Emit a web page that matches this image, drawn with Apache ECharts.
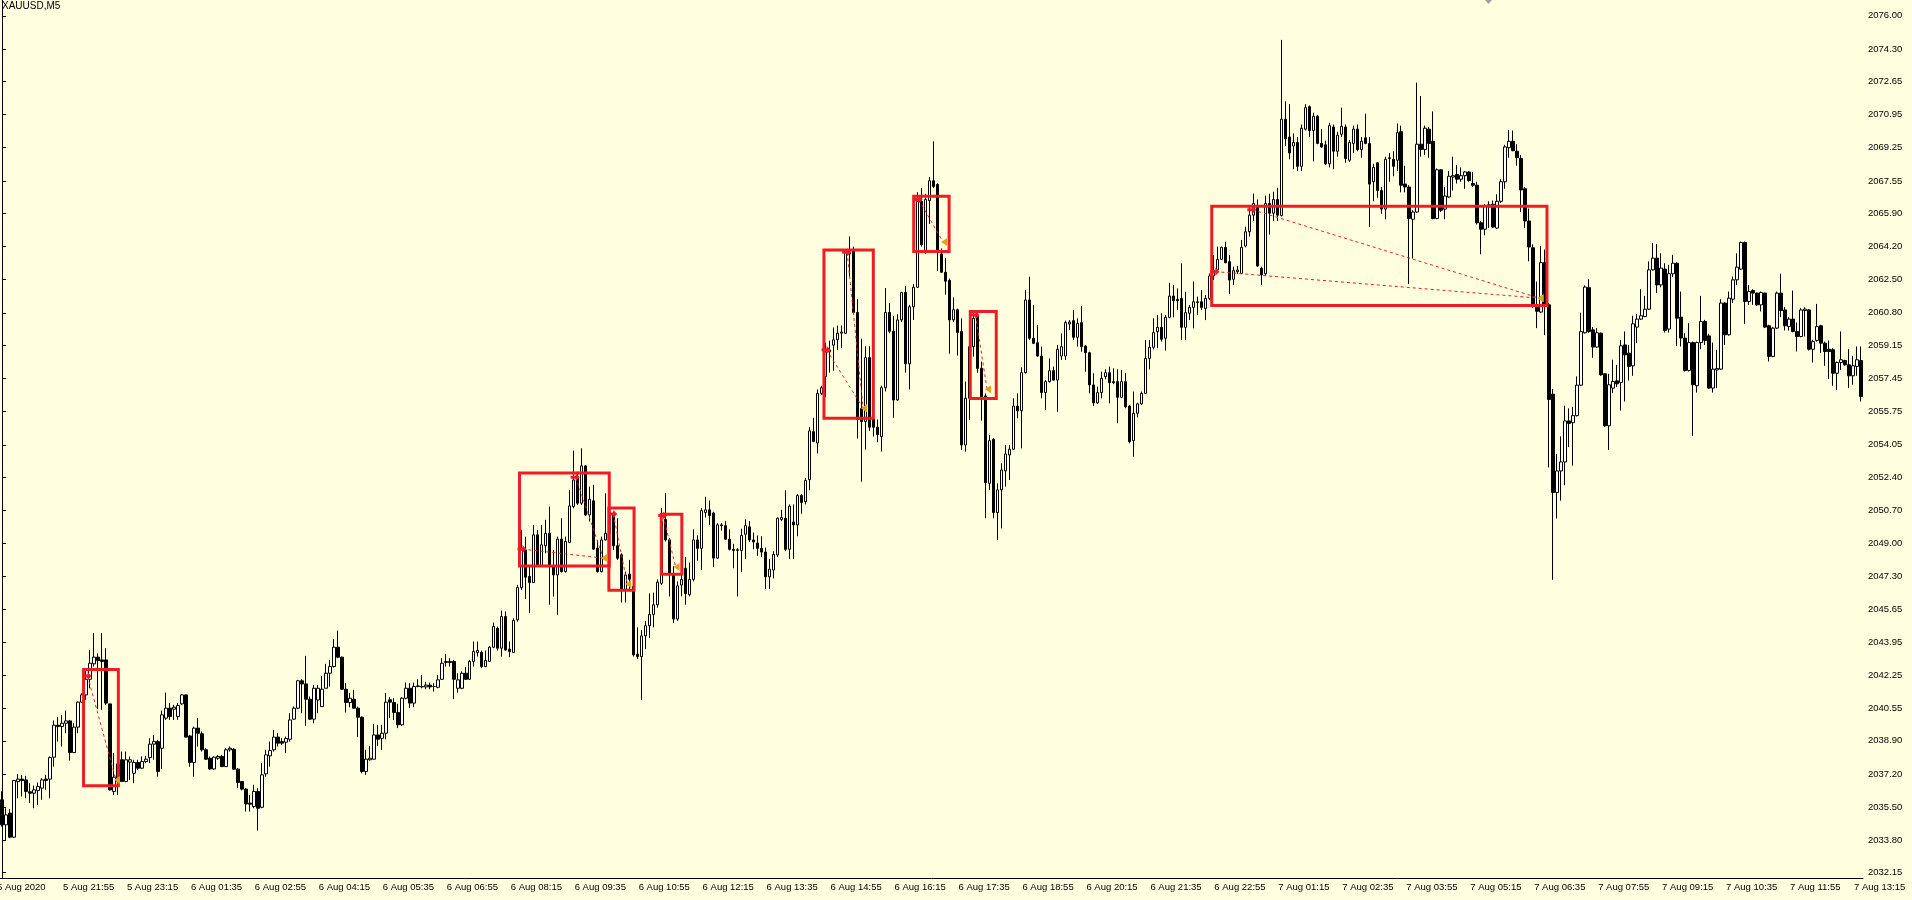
<!DOCTYPE html>
<html>
<head>
<meta charset="utf-8">
<title>XAUUSD,M5</title>
<script src="https://cdn.jsdelivr.net/npm/echarts@6/dist/echarts.min.js"></script>
<style>
  html, body { margin: 0; padding: 0; background: #ffffe0; }
  #chart { width: 1912px; height: 900px; }
</style>
</head>
<body>
<div id="chart"></div>
<script>
const symbolTitle = 'XAUUSD,M5'
const chartDateLabel = '5 Aug 2020'
// one label every 16 bars, the first one on bar 15
const timeLabels = ['5 Aug 21:55', '5 Aug 23:15', '6 Aug 01:35', '6 Aug 02:55', '6 Aug 04:15', '6 Aug 05:35',
  '6 Aug 06:55', '6 Aug 08:15', '6 Aug 09:35', '6 Aug 10:55', '6 Aug 12:15', '6 Aug 13:35', '6 Aug 14:55',
  '6 Aug 16:15', '6 Aug 17:35', '6 Aug 18:55', '6 Aug 20:15', '6 Aug 21:35', '6 Aug 22:55', '7 Aug 01:15',
  '7 Aug 02:35', '7 Aug 03:55', '7 Aug 05:15', '7 Aug 06:35', '7 Aug 07:55', '7 Aug 09:15', '7 Aug 10:35',
  '7 Aug 11:55', '7 Aug 13:15']
const firstLabelBar = 15
const labelStep = 16

const priceTicks = [2076.00, 2074.30, 2072.65, 2070.95, 2069.25, 2067.55, 2065.90, 2064.20, 2062.50, 2060.80,
  2059.15, 2057.45, 2055.75, 2054.05, 2052.40, 2050.70, 2049.00, 2047.30, 2045.65, 2043.95, 2042.25, 2040.55,
  2038.90, 2037.20, 2035.50, 2033.80, 2032.15]
const priceMin = 2031.88
const priceMax = 2076.81

// [open, close, low, high]
const candles = [
  [2035.88, 2034.60, 2034.51, 2036.31], [2034.60, 2035.11, 2033.83, 2035.45], [2035.20, 2033.97, 2033.92, 2035.40], [2033.97, 2036.87, 2033.92, 2036.90],
  [2036.82, 2036.94, 2035.96, 2037.21], [2036.94, 2036.87, 2036.05, 2037.16], [2036.90, 2036.31, 2035.96, 2037.11], [2036.29, 2036.22, 2035.71, 2036.73],
  [2036.22, 2036.39, 2035.45, 2036.61], [2036.36, 2036.56, 2035.62, 2036.77], [2036.48, 2036.90, 2035.88, 2036.99], [2036.94, 2036.87, 2036.39, 2037.16],
  [2036.94, 2038.04, 2035.96, 2038.10], [2038.06, 2039.70, 2037.58, 2039.94], [2039.70, 2039.63, 2038.86, 2040.11], [2039.63, 2039.80, 2038.61, 2040.23],
  [2039.80, 2039.92, 2039.29, 2040.45], [2039.92, 2038.30, 2037.89, 2039.97], [2038.30, 2039.60, 2038.27, 2039.80], [2039.60, 2040.88, 2039.29, 2040.91],
  [2040.88, 2041.25, 2040.83, 2041.34], [2041.25, 2042.05, 2041.00, 2042.53], [2042.05, 2042.87, 2041.59, 2043.55], [2042.84, 2043.18, 2042.70, 2044.41],
  [2043.18, 2043.01, 2040.52, 2043.38], [2043.04, 2042.96, 2040.49, 2044.41], [2043.04, 2040.83, 2040.74, 2043.64], [2040.79, 2036.39, 2036.36, 2040.79],
  [2036.31, 2037.04, 2036.13, 2038.27], [2037.72, 2036.82, 2036.13, 2037.84], [2037.93, 2036.82, 2036.82, 2038.35], [2036.82, 2037.93, 2036.78, 2038.35],
  [2037.81, 2037.93, 2036.90, 2038.10], [2037.24, 2037.79, 2036.73, 2037.93], [2037.79, 2037.50, 2037.41, 2037.93], [2037.50, 2037.84, 2037.45, 2038.10],
  [2037.84, 2037.96, 2037.76, 2038.13], [2038.04, 2038.73, 2037.76, 2039.03], [2038.73, 2038.86, 2037.93, 2039.20], [2038.86, 2037.33, 2037.07, 2038.95],
  [2038.52, 2040.23, 2037.46, 2040.45], [2040.06, 2040.57, 2039.97, 2041.37], [2040.57, 2040.14, 2039.97, 2040.83], [2040.52, 2040.62, 2039.97, 2040.74],
  [2040.14, 2040.71, 2039.97, 2040.83], [2040.79, 2041.25, 2040.74, 2041.30], [2041.25, 2039.09, 2039.09, 2041.25], [2039.15, 2037.79, 2037.58, 2039.20],
  [2037.79, 2039.55, 2037.07, 2039.63], [2039.55, 2039.29, 2038.61, 2040.06], [2039.26, 2038.44, 2038.35, 2039.38], [2038.44, 2037.96, 2037.93, 2038.52],
  [2038.01, 2037.46, 2037.41, 2038.10], [2037.46, 2038.06, 2037.41, 2038.10], [2038.01, 2038.10, 2037.93, 2038.18], [2038.10, 2037.58, 2037.58, 2038.18],
  [2037.58, 2038.44, 2037.58, 2038.52], [2038.44, 2038.52, 2038.35, 2038.61], [2038.47, 2037.45, 2037.41, 2038.52], [2037.45, 2036.77, 2036.48, 2037.50],
  [2036.82, 2036.43, 2036.36, 2036.82], [2036.43, 2035.67, 2035.28, 2036.48], [2035.71, 2035.66, 2035.28, 2036.13], [2035.54, 2036.31, 2035.45, 2036.65],
  [2036.31, 2035.45, 2034.31, 2036.48], [2035.50, 2037.16, 2035.45, 2037.76], [2037.21, 2038.18, 2037.07, 2038.44], [2038.13, 2038.40, 2037.58, 2038.86],
  [2038.44, 2039.09, 2038.35, 2039.46], [2039.09, 2038.78, 2038.61, 2039.29], [2038.86, 2038.78, 2038.69, 2039.03], [2038.83, 2039.02, 2038.27, 2039.12],
  [2038.98, 2039.97, 2038.86, 2040.31], [2040.01, 2040.57, 2039.97, 2040.66], [2040.57, 2041.97, 2040.52, 2042.02], [2041.97, 2041.81, 2040.31, 2042.05],
  [2041.81, 2041.03, 2039.67, 2043.25], [2041.03, 2040.01, 2039.97, 2041.17], [2040.01, 2041.59, 2039.80, 2041.76], [2040.99, 2041.59, 2040.31, 2041.76],
  // 80
  [2040.65, 2041.54, 2040.65, 2042.22], [2041.59, 2042.36, 2041.59, 2042.84], [2042.36, 2042.70, 2041.68, 2043.04], [2042.70, 2043.69, 2042.65, 2044.10],
  [2043.69, 2043.18, 2043.13, 2044.54], [2043.18, 2041.54, 2041.51, 2043.21], [2041.54, 2040.86, 2040.35, 2041.85], [2040.86, 2041.08, 2040.62, 2041.34],
  [2041.03, 2040.57, 2040.57, 2041.51], [2040.57, 2040.11, 2039.09, 2040.65], [2040.11, 2037.33, 2037.24, 2040.14], [2037.33, 2037.96, 2037.16, 2038.44],
  [2037.93, 2038.01, 2037.89, 2038.64], [2037.96, 2039.20, 2037.96, 2039.77], [2039.20, 2038.98, 2038.64, 2039.72], [2039.03, 2039.29, 2038.44, 2039.72],
  [2039.29, 2040.88, 2038.98, 2041.34], [2041.00, 2040.88, 2040.06, 2041.13], [2040.86, 2040.35, 2039.97, 2041.08], [2040.35, 2039.72, 2039.55, 2040.79],
  [2039.72, 2041.08, 2039.67, 2041.13], [2041.08, 2041.59, 2041.03, 2041.88], [2041.59, 2040.83, 2040.57, 2041.85], [2040.83, 2041.68, 2040.62, 2041.88],
  [2041.68, 2041.71, 2041.64, 2042.05], [2041.68, 2041.66, 2041.59, 2042.27], [2041.66, 2041.75, 2041.54, 2041.92], [2041.75, 2041.66, 2041.54, 2041.88],
  [2041.68, 2041.68, 2041.42, 2041.85], [2041.64, 2042.02, 2041.59, 2042.27], [2042.05, 2042.87, 2042.02, 2043.13], [2042.91, 2042.96, 2042.70, 2043.35],
  [2042.96, 2042.91, 2042.70, 2043.13], [2042.96, 2042.05, 2041.03, 2043.04], [2041.59, 2042.02, 2041.37, 2042.36], [2041.59, 2042.36, 2041.54, 2042.45],
  [2042.36, 2042.05, 2042.02, 2042.67], [2042.05, 2042.96, 2042.02, 2043.04], [2042.96, 2043.47, 2042.70, 2043.98], [2043.42, 2043.52, 2043.21, 2043.98],
  [2043.42, 2042.70, 2042.62, 2043.52], [2042.70, 2043.01, 2042.67, 2043.52], [2042.96, 2043.69, 2042.96, 2043.76], [2043.69, 2044.75, 2043.64, 2044.95],
  [2044.66, 2043.64, 2043.52, 2044.75], [2043.64, 2045.26, 2043.21, 2045.57], [2045.26, 2043.55, 2043.52, 2045.52], [2043.59, 2043.47, 2043.18, 2043.98],
  [2043.42, 2045.06, 2043.42, 2045.17], [2045.09, 2046.74, 2045.00, 2046.88], [2046.74, 2048.67, 2046.62, 2049.69], [2048.67, 2047.27, 2046.15, 2049.35],
  [2047.31, 2047.00, 2045.43, 2047.82], [2047.00, 2049.44, 2046.97, 2049.95], [2049.44, 2047.85, 2047.82, 2049.69], [2047.85, 2048.93, 2047.82, 2049.95],
  [2048.88, 2049.52, 2048.50, 2050.21], [2049.52, 2047.85, 2045.86, 2050.89], [2047.85, 2047.39, 2046.28, 2048.67], [2047.39, 2049.22, 2045.35, 2049.35],
  [2049.22, 2047.56, 2047.51, 2050.29], [2047.56, 2049.10, 2047.51, 2049.35], [2049.05, 2050.92, 2049.01, 2051.74], [2050.89, 2052.25, 2050.80, 2053.75],
  [2052.39, 2051.06, 2050.97, 2052.68], [2051.06, 2052.97, 2050.97, 2053.87], [2052.97, 2050.46, 2050.41, 2053.02], [2050.46, 2051.26, 2050.12, 2051.91],
  [2051.18, 2048.71, 2048.67, 2052.00], [2048.76, 2047.56, 2047.51, 2049.18], [2047.56, 2049.18, 2047.51, 2049.35], [2049.18, 2049.52, 2049.15, 2051.57],
  [2049.52, 2050.58, 2049.44, 2050.89], [2050.51, 2048.88, 2048.67, 2050.63], [2048.88, 2048.24, 2048.16, 2050.29], [2048.42, 2046.62, 2045.98, 2048.50],
  [2046.62, 2047.39, 2045.98, 2047.56], [2047.43, 2047.17, 2046.62, 2048.16], [2046.80, 2043.30, 2043.21, 2046.88], [2043.33, 2043.21, 2043.09, 2044.71],
  // 160
  [2043.21, 2044.27, 2041.00, 2044.56], [2044.27, 2044.79, 2043.59, 2045.04], [2044.79, 2045.37, 2044.17, 2046.44], [2045.37, 2045.86, 2044.71, 2046.48],
  [2045.86, 2047.02, 2045.71, 2047.16], [2046.96, 2050.14, 2046.87, 2050.81], [2050.23, 2049.18, 2049.10, 2051.58], [2049.18, 2047.44, 2046.29, 2049.28],
  [2047.44, 2045.13, 2044.94, 2047.83], [2045.13, 2046.83, 2045.04, 2047.06], [2046.87, 2047.16, 2046.29, 2048.31], [2047.73, 2046.44, 2045.86, 2048.31],
  [2046.38, 2047.16, 2046.29, 2048.02], [2047.16, 2049.18, 2047.06, 2049.72], [2049.18, 2048.75, 2048.12, 2049.41], [2048.75, 2050.68, 2047.64, 2050.81],
  [2050.58, 2050.72, 2050.33, 2051.39], [2050.72, 2050.43, 2049.95, 2051.20], [2050.56, 2048.25, 2047.79, 2050.62], [2048.25, 2049.95, 2048.21, 2050.04],
  [2049.95, 2049.91, 2049.66, 2050.04], [2049.91, 2049.22, 2049.18, 2050.14], [2049.22, 2048.70, 2048.64, 2049.72], [2048.70, 2048.64, 2047.73, 2048.98],
  [2048.64, 2048.68, 2046.29, 2048.76], [2048.64, 2049.41, 2047.54, 2049.75], [2049.47, 2049.91, 2048.21, 2050.23], [2049.85, 2049.18, 2049.08, 2050.14],
  [2049.18, 2049.08, 2048.70, 2049.56], [2049.02, 2048.75, 2048.37, 2049.41], [2048.75, 2048.56, 2048.31, 2049.37], [2048.56, 2047.29, 2046.67, 2048.79],
  [2047.29, 2047.68, 2046.67, 2048.21], [2047.64, 2048.44, 2047.21, 2048.60], [2048.41, 2050.29, 2048.31, 2050.33], [2050.23, 2050.33, 2050.14, 2050.72],
  [2050.29, 2048.70, 2048.60, 2051.72], [2048.70, 2050.91, 2048.21, 2051.00], [2050.10, 2049.95, 2048.21, 2051.00], [2049.95, 2051.45, 2049.37, 2051.53],
  [2051.45, 2051.10, 2050.52, 2051.53], [2051.14, 2052.22, 2051.00, 2052.35], [2052.26, 2054.76, 2051.72, 2054.95], [2054.72, 2054.22, 2054.18, 2055.43],
  [2054.14, 2056.68, 2053.60, 2056.88], [2056.68, 2056.97, 2056.59, 2057.07], [2057.55, 2058.80, 2056.49, 2059.28], [2058.80, 2058.90, 2057.74, 2059.38],
  [2059.15, 2059.42, 2057.84, 2060.05], [2059.42, 2059.76, 2058.90, 2060.15], [2059.76, 2059.82, 2059.00, 2060.15], [2059.76, 2063.90, 2059.72, 2064.00],
  [2063.90, 2063.81, 2062.65, 2064.71], [2064.04, 2060.82, 2060.76, 2064.19], [2060.82, 2055.34, 2054.37, 2061.50], [2055.91, 2055.24, 2052.16, 2059.48],
  [2055.24, 2058.51, 2053.80, 2059.09], [2058.51, 2054.95, 2054.76, 2059.09], [2055.38, 2054.95, 2054.47, 2055.53], [2054.95, 2054.57, 2054.18, 2055.34],
  [2054.47, 2056.97, 2053.70, 2057.07], [2056.97, 2060.82, 2056.78, 2062.07], [2060.82, 2059.86, 2059.76, 2061.30], [2059.86, 2056.34, 2055.43, 2060.63],
  [2056.34, 2060.44, 2056.30, 2060.73], [2060.44, 2061.84, 2060.34, 2061.88], [2061.84, 2058.19, 2057.74, 2062.17], [2058.19, 2061.11, 2056.88, 2061.21],
  [2061.11, 2062.11, 2060.44, 2062.27], [2062.11, 2066.50, 2062.07, 2066.98], [2066.50, 2064.29, 2064.19, 2067.18], [2063.90, 2066.60, 2063.81, 2066.89],
  [2066.54, 2067.56, 2065.35, 2067.75], [2067.56, 2067.27, 2067.18, 2069.58], [2067.37, 2064.00, 2062.94, 2067.43], [2063.81, 2062.88, 2062.84, 2064.10],
  [2062.88, 2062.42, 2061.73, 2063.61], [2062.46, 2060.44, 2058.71, 2062.56], [2060.44, 2060.96, 2060.34, 2061.59], [2060.96, 2059.80, 2058.61, 2061.02],
  // 240
  [2059.84, 2054.04, 2053.78, 2060.52], [2054.04, 2056.43, 2053.70, 2057.28], [2056.43, 2059.07, 2055.32, 2059.20], [2059.07, 2060.52, 2058.56, 2060.95],
  [2060.61, 2057.96, 2057.74, 2060.69], [2057.96, 2056.51, 2055.28, 2058.30], [2056.55, 2052.11, 2050.29, 2056.68], [2052.08, 2054.26, 2051.74, 2054.55],
  [2054.33, 2050.58, 2050.29, 2054.38], [2050.58, 2051.74, 2049.18, 2052.08], [2051.74, 2052.76, 2049.77, 2053.10], [2052.72, 2053.58, 2051.91, 2054.04],
  [2053.53, 2053.82, 2052.25, 2054.04], [2053.82, 2056.03, 2053.80, 2056.43], [2056.03, 2055.79, 2055.40, 2056.68], [2055.79, 2057.74, 2053.87, 2058.01],
  [2057.74, 2061.46, 2057.70, 2061.97], [2061.46, 2059.50, 2059.41, 2062.65], [2059.50, 2059.24, 2059.20, 2061.20], [2059.27, 2058.59, 2058.56, 2060.18],
  [2058.59, 2056.72, 2056.43, 2059.07], [2056.72, 2057.28, 2055.83, 2057.36], [2057.28, 2057.84, 2057.23, 2058.47], [2057.84, 2057.36, 2057.33, 2058.05],
  [2057.36, 2058.93, 2055.74, 2059.16], [2058.59, 2059.07, 2058.39, 2059.75], [2058.59, 2060.30, 2058.39, 2060.40], [2060.23, 2060.33, 2059.92, 2060.43],
  [2060.40, 2059.55, 2059.41, 2060.95], [2059.55, 2060.26, 2059.07, 2060.52], [2060.30, 2059.07, 2058.81, 2061.15], [2059.10, 2058.76, 2057.79, 2059.16],
  [2058.76, 2057.11, 2056.68, 2058.81], [2057.11, 2056.20, 2056.03, 2057.71], [2056.20, 2056.72, 2056.14, 2057.02], [2056.72, 2057.45, 2056.43, 2057.79],
  [2057.54, 2057.74, 2057.40, 2057.91], [2057.74, 2057.23, 2056.17, 2058.05], [2057.28, 2057.23, 2057.15, 2057.96], [2057.28, 2056.48, 2055.15, 2057.91],
  [2056.48, 2057.28, 2056.43, 2057.88], [2057.28, 2056.00, 2055.92, 2057.71], [2056.03, 2054.21, 2054.12, 2056.08], [2054.26, 2055.66, 2053.44, 2056.77],
  [2055.66, 2056.14, 2055.45, 2056.20], [2056.14, 2056.68, 2056.08, 2056.77], [2056.68, 2058.47, 2056.65, 2059.41], [2058.47, 2059.04, 2057.91, 2059.41],
  [2059.04, 2059.79, 2058.93, 2060.52], [2059.84, 2060.06, 2058.99, 2060.69], [2060.06, 2059.45, 2059.33, 2060.78], [2059.50, 2060.57, 2058.87, 2060.69],
  [2060.57, 2061.66, 2060.52, 2062.34], [2061.66, 2061.42, 2060.57, 2062.23], [2061.49, 2061.42, 2060.95, 2062.05], [2061.54, 2060.06, 2059.41, 2063.33],
  [2060.06, 2060.81, 2059.41, 2061.88], [2060.78, 2061.08, 2060.43, 2061.20], [2061.08, 2061.37, 2060.01, 2062.40], [2061.32, 2061.37, 2060.69, 2061.63],
  [2061.37, 2061.08, 2060.95, 2061.97], [2061.03, 2061.54, 2060.43, 2061.71], [2061.54, 2062.69, 2061.46, 2062.82], [2062.69, 2062.99, 2062.48, 2063.76],
  [2062.99, 2063.54, 2062.91, 2064.19], [2063.54, 2064.15, 2063.50, 2064.19], [2064.15, 2063.37, 2063.33, 2064.44], [2063.42, 2062.48, 2061.77, 2063.76],
  [2062.52, 2062.96, 2062.23, 2063.16], [2062.91, 2062.99, 2062.79, 2063.20], [2062.82, 2064.15, 2062.79, 2064.53], [2064.22, 2064.95, 2064.15, 2065.21],
  [2064.95, 2065.80, 2064.70, 2066.20], [2065.80, 2066.40, 2065.50, 2066.90], [2066.30, 2063.20, 2063.15, 2066.60], [2063.08, 2062.74, 2062.23, 2063.16],
  [2062.80, 2066.40, 2062.70, 2066.80], [2066.40, 2065.90, 2064.80, 2066.90], [2065.90, 2066.60, 2065.50, 2067.00], [2066.60, 2065.80, 2065.50, 2067.20],
  // 320
  [2065.78, 2070.71, 2065.74, 2074.77], [2070.71, 2069.71, 2069.34, 2071.63], [2069.80, 2068.98, 2068.66, 2071.48], [2069.34, 2069.52, 2068.15, 2069.98],
  [2069.52, 2068.30, 2068.06, 2069.80], [2068.30, 2070.25, 2068.06, 2070.44], [2070.20, 2071.30, 2070.13, 2071.48], [2071.35, 2070.13, 2069.80, 2071.41],
  [2070.13, 2070.86, 2068.55, 2071.04], [2070.86, 2069.47, 2069.43, 2070.93], [2069.47, 2069.29, 2069.25, 2070.20], [2069.40, 2068.43, 2068.37, 2069.61],
  [2068.43, 2070.38, 2068.24, 2070.53], [2070.31, 2069.07, 2068.15, 2070.44], [2069.07, 2069.89, 2068.79, 2070.07], [2069.94, 2070.35, 2069.80, 2071.30],
  [2070.31, 2068.70, 2068.48, 2070.44], [2068.61, 2069.52, 2068.52, 2069.65], [2069.47, 2070.20, 2068.98, 2070.38], [2070.20, 2069.16, 2069.07, 2070.44],
  [2069.16, 2069.58, 2068.74, 2069.80], [2069.76, 2069.47, 2069.43, 2070.99], [2069.47, 2067.39, 2065.19, 2069.80], [2067.51, 2068.24, 2066.51, 2068.43],
  [2068.48, 2067.06, 2066.69, 2068.52], [2067.06, 2066.11, 2065.87, 2067.24], [2066.11, 2068.66, 2065.59, 2068.79], [2068.70, 2068.74, 2067.51, 2068.98],
  [2068.66, 2068.30, 2067.79, 2069.07], [2068.61, 2070.02, 2068.06, 2070.49], [2070.07, 2067.33, 2066.97, 2070.38], [2067.39, 2067.24, 2066.97, 2068.33],
  [2067.24, 2065.63, 2062.27, 2067.33], [2065.59, 2065.96, 2063.58, 2066.05], [2065.96, 2069.43, 2065.92, 2072.58], [2069.43, 2069.16, 2068.79, 2071.90],
  [2069.16, 2070.25, 2068.88, 2070.38], [2070.20, 2069.47, 2068.74, 2070.31], [2069.58, 2065.63, 2065.59, 2071.11], [2065.63, 2068.12, 2065.59, 2068.19],
  [2068.12, 2066.05, 2065.96, 2068.15], [2066.11, 2066.78, 2065.59, 2067.24], [2066.73, 2067.79, 2066.69, 2068.06], [2067.75, 2067.82, 2067.06, 2068.79],
  [2067.88, 2067.64, 2067.42, 2068.37], [2067.64, 2067.82, 2067.51, 2068.24], [2067.82, 2068.01, 2067.15, 2068.06], [2068.01, 2067.57, 2067.51, 2068.06],
  [2067.42, 2067.33, 2067.24, 2068.01], [2067.33, 2065.41, 2065.32, 2067.51], [2065.41, 2065.08, 2063.80, 2065.50], [2065.08, 2066.29, 2064.77, 2066.36],
  [2066.23, 2066.33, 2065.14, 2066.51], [2066.36, 2065.19, 2065.14, 2066.55], [2065.14, 2066.51, 2065.10, 2066.87], [2066.51, 2067.51, 2066.42, 2067.64],
  [2067.51, 2069.29, 2067.15, 2069.40], [2069.25, 2069.58, 2068.74, 2070.16], [2069.58, 2069.10, 2069.07, 2070.13], [2069.07, 2068.74, 2068.33, 2069.43],
  [2068.70, 2067.09, 2065.96, 2068.88], [2067.15, 2065.50, 2065.14, 2067.24], [2065.50, 2064.17, 2063.44, 2066.14], [2064.13, 2061.12, 2061.06, 2064.31],
  [2061.12, 2060.88, 2060.02, 2062.40], [2060.84, 2063.37, 2060.80, 2064.22], [2063.37, 2061.21, 2059.66, 2064.04], [2061.21, 2056.37, 2052.89, 2061.30],
  [2056.64, 2051.61, 2047.14, 2056.91], [2051.61, 2052.71, 2050.28, 2053.57], [2052.71, 2053.17, 2051.19, 2054.48], [2053.17, 2055.27, 2051.98, 2056.05],
  [2055.27, 2055.14, 2053.93, 2055.91], [2055.18, 2055.54, 2052.98, 2055.99], [2055.54, 2057.10, 2055.50, 2057.55], [2057.10, 2059.84, 2057.05, 2060.81],
  [2059.78, 2062.12, 2059.74, 2062.21], [2062.09, 2059.84, 2059.78, 2062.52], [2059.93, 2059.05, 2058.50, 2060.07], [2059.05, 2059.78, 2059.00, 2060.02],
  // 400
  [2059.76, 2057.63, 2057.58, 2059.79], [2057.68, 2055.02, 2054.95, 2057.72], [2055.02, 2057.12, 2053.79, 2057.68], [2056.95, 2057.29, 2056.69, 2058.40],
  [2057.32, 2057.17, 2057.00, 2058.14], [2057.24, 2059.11, 2055.80, 2059.42], [2059.16, 2058.65, 2056.26, 2059.85], [2058.74, 2058.06, 2057.34, 2059.16],
  [2058.09, 2060.24, 2057.58, 2060.65], [2060.07, 2060.48, 2059.25, 2060.75], [2060.48, 2060.65, 2060.44, 2062.01], [2060.61, 2060.99, 2060.58, 2061.67],
  [2060.99, 2063.00, 2060.95, 2063.43], [2063.00, 2063.60, 2062.96, 2064.37], [2063.60, 2062.23, 2061.81, 2064.33], [2062.23, 2063.09, 2062.11, 2063.85],
  [2063.04, 2059.90, 2059.79, 2063.34], [2059.97, 2062.80, 2059.79, 2063.26], [2062.80, 2063.34, 2062.63, 2063.77], [2063.34, 2060.53, 2059.11, 2063.38],
  [2060.58, 2059.51, 2059.08, 2061.89], [2059.51, 2057.85, 2057.80, 2059.76], [2057.85, 2059.28, 2057.80, 2060.27], [2059.28, 2057.12, 2054.51, 2059.33],
  [2057.07, 2059.28, 2056.72, 2059.33], [2059.28, 2060.36, 2058.94, 2061.67], [2060.36, 2059.39, 2059.16, 2060.44], [2059.62, 2056.95, 2056.90, 2059.73],
  [2056.95, 2057.92, 2056.72, 2059.28], [2057.88, 2057.95, 2056.95, 2058.91], [2057.92, 2061.30, 2057.88, 2061.50], [2061.30, 2059.68, 2059.16, 2061.34],
  [2059.68, 2061.55, 2059.63, 2061.89], [2061.50, 2062.49, 2061.30, 2062.66], [2062.49, 2063.14, 2062.23, 2063.85], [2063.04, 2064.40, 2063.00, 2064.45],
  [2064.40, 2061.38, 2060.24, 2064.45], [2061.38, 2061.89, 2061.21, 2062.23], [2061.94, 2061.81, 2061.21, 2062.01], [2061.81, 2061.21, 2061.16, 2061.84],
  [2061.21, 2061.84, 2060.87, 2061.89], [2061.81, 2060.07, 2060.02, 2061.84], [2060.14, 2058.57, 2058.31, 2060.19], [2058.57, 2060.02, 2058.53, 2060.07],
  [2060.02, 2061.81, 2059.97, 2061.89], [2061.81, 2060.92, 2060.58, 2062.80], [2060.95, 2060.14, 2059.90, 2061.09], [2060.10, 2060.48, 2059.90, 2060.58],
  [2060.48, 2059.85, 2059.80, 2061.94], [2059.85, 2059.59, 2058.82, 2060.31], [2059.59, 2060.95, 2059.55, 2061.04], [2060.92, 2060.99, 2059.59, 2061.09],
  [2060.95, 2058.94, 2058.87, 2061.00], [2058.94, 2059.33, 2058.26, 2059.42], [2059.39, 2060.10, 2059.33, 2061.26], [2060.14, 2059.25, 2058.74, 2060.19],
  [2059.25, 2058.82, 2058.09, 2059.33], [2058.94, 2058.82, 2057.41, 2059.39], [2058.91, 2057.71, 2057.07, 2058.99], [2057.71, 2058.26, 2056.86, 2058.31],
  [2058.26, 2058.40, 2057.88, 2059.85], [2058.36, 2058.14, 2058.09, 2058.40], [2058.14, 2057.58, 2056.95, 2058.94], [2057.58, 2058.09, 2057.12, 2058.60],
  [2058.06, 2058.40, 2057.58, 2059.08], [2058.36, 2056.52, 2056.26, 2059.08]
]

// trade boxes: [fromBar, toBar, topPrice, bottomPrice]
const boxes = [
  [20.4, 29.1, 2042.55, 2036.60],
  [129.45, 151.9, 2052.60, 2047.84],
  [151.8, 158.1, 2050.81, 2046.61],
  [164.9, 170.05, 2050.49, 2047.43],
  [205.6, 217.95, 2064.02, 2055.41],
  [228.05, 236.9, 2066.77, 2063.94],
  [242.2, 248.7, 2060.87, 2056.42],
  [302.6, 386.45, 2066.25, 2061.18]
]

// trade lines: [openBar, openPrice, closeBar, closePrice]
const tradeLines = [
  [21.4, 2042.22, 28.5, 2036.90],
  [130.2, 2048.71, 150.4, 2048.25],
  [143.5, 2052.39, 150.4, 2048.25],
  [152.9, 2050.51, 156.4, 2046.93],
  [165.4, 2050.43, 168.5, 2047.79],
  [206.25, 2058.91, 215.4, 2055.92],
  [211.4, 2063.90, 215.4, 2055.92],
  [229.3, 2066.60, 235.4, 2064.42],
  [243.5, 2060.69, 246.4, 2056.89],
  [303.5, 2062.91, 384.6, 2061.55],
  [312.75, 2066.08, 384.6, 2061.55]
]

const bgColor = '#ffffe0'
const boxColor = '#ee1c25'
const closeColor = '#daa520'
const font = 'Liberation Sans'

const barIds = candles.map((c, i) => i)
const isLabelBar = (i) => i >= firstLabelBar && (i - firstLabelBar) % labelStep === 0
const labelFor = (i) => timeLabels[(i - firstLabelBar) / labelStep] || ''

const chart = echarts.init(document.getElementById('chart'))

const option = {
  backgroundColor: bgColor,
  animation: false,
  title: {
    text: symbolTitle,
    left: 2,
    top: 1,
    padding: 0,
    textStyle: { fontFamily: font, fontSize: 10, fontWeight: 'normal', color: '#000' }
  },
  graphic: [{
    type: 'text',
    x: -3,
    y: 882,
    style: { text: chartDateLabel, font: '9.5px "Liberation Sans"', fill: '#000' }
  }, {
    // chart shift marker at the top edge
    type: 'polygon',
    shape: { points: [[1485, 0], [1492, 0], [1488.5, 4]] },
    style: { fill: '#a0a0a0' }
  }],
  grid: { left: -1, right: 49, top: 0, bottom: 22 },
  xAxis: [{
    type: 'category',
    data: barIds,
    boundaryGap: true,
    axisLine: { lineStyle: { color: '#000', width: 1 } },
    axisTick: { alignWithLabel: true, interval: isLabelBar, length: 4, lineStyle: { color: '#000' } },
    axisLabel: {
      interval: isLabelBar,
      formatter: (v, i) => labelFor(i),
      align: 'left',
      margin: 4,
      padding: [0, 0, 0, 1],
      color: '#000',
      fontFamily: font,
      fontSize: 9.5
    },
    splitLine: { show: false }
  }, {
    type: 'value',
    min: -0.5,
    max: candles.length - 0.5,
    show: false
  }],
  yAxis: {
    type: 'value',
    position: 'right',
    min: priceMin,
    max: priceMax,
    axisLine: { show: true, lineStyle: { color: '#000', width: 1 } },
    axisTick: { show: true, length: 4, customValues: priceTicks, lineStyle: { color: '#000' } },
    axisLabel: {
      customValues: priceTicks,
      formatter: v => v.toFixed(2),
      margin: 5,
      color: '#000',
      fontFamily: font,
      fontSize: 9.5
    },
    splitLine: { show: false }
  },
  series: [{
    type: 'candlestick',
    data: candles,
    barWidth: 3,
    silent: true,
    itemStyle: {
      color: '#ffffff',
      color0: '#000000',
      borderColor: '#000000',
      borderColor0: '#000000',
      borderWidth: 1
    }
  }, {
    type: 'custom',
    xAxisIndex: 1,
    silent: true,
    z: 5,
    data: boxes,
    renderItem: (params, api) => {
      const p1 = api.coord([api.value(0), api.value(2)])
      const p2 = api.coord([api.value(1), api.value(3)])
      return {
        type: 'rect',
        shape: { x: p1[0], y: p1[1], width: p2[0] - p1[0], height: p2[1] - p1[1] },
        style: { fill: 'none', stroke: boxColor, lineWidth: 3 }
      }
    }
  }, {
    type: 'custom',
    xAxisIndex: 1,
    silent: true,
    z: 6,
    data: tradeLines,
    renderItem: (params, api) => {
      const a = api.coord([api.value(0), api.value(1)])
      const b = api.coord([api.value(2), api.value(3)])
      return {
        type: 'group',
        children: [{
          type: 'line',
          shape: { x1: a[0], y1: a[1], x2: b[0], y2: b[1] },
          style: { stroke: boxColor, lineWidth: 1, lineDash: [3, 3] }
        }, {
          // open arrow
          type: 'polygon',
          shape: { points: [[a[0] - 5, a[1] - 1.5], [a[0], a[1] - 1.5], [a[0], a[1] - 4], [a[0] + 4, a[1]], [a[0], a[1] + 4], [a[0], a[1] + 1.5], [a[0] - 5, a[1] + 1.5]] },
          style: { fill: boxColor }
        }, {
          // close mark
          type: 'polygon',
          shape: { points: [[b[0] - 2, b[1]], [b[0] + 4, b[1] - 4], [b[0] + 4, b[1] + 4]] },
          style: { fill: closeColor }
        }]
      }
    }
  }]
}

chart.setOption(option)
</script>
</body>
</html>
